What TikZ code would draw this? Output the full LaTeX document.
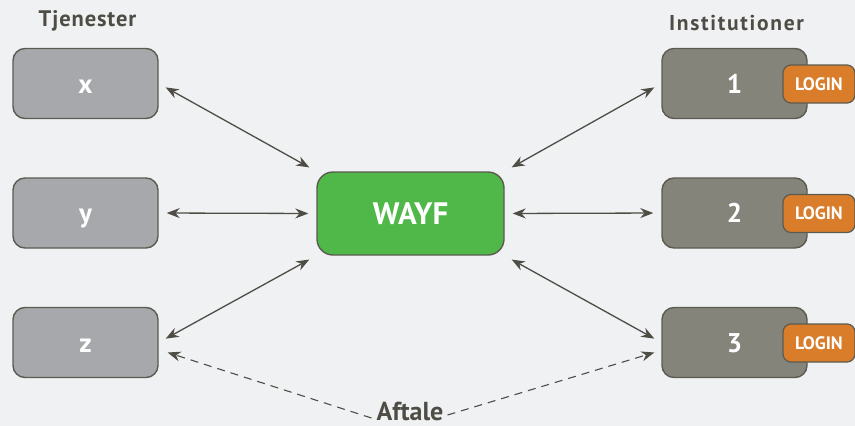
\documentclass[tikz,border=0pt]{standalone}
\usepackage{fontspec}
\setmainfont{PT Sans}
\usetikzlibrary{arrows.meta}
\definecolor{bg}{HTML}{F0F1F3}
\definecolor{edge}{HTML}{5C5B52}
\definecolor{lgray}{HTML}{A7A8AB}
\definecolor{dgray}{HTML}{85847A}
\definecolor{wgreen}{HTML}{50B848}
\definecolor{lorange}{HTML}{D97D2A}
\definecolor{txt}{HTML}{4E4D45}
\tikzset{
  box/.style={draw=edge, line width=1.4pt, rounded corners=12pt, minimum width=145pt, minimum height=70pt, text=white, font=\fontsize{27}{27}\bfseries\selectfont, inner sep=0pt, text height=19pt, text depth=0pt},
  sbox/.style={box, fill=lgray},
  ibox/.style={box, fill=dgray},
  wbox/.style={draw=edge, line width=1.4pt, rounded corners=16pt, fill=wgreen, minimum width=187pt, minimum height=83pt, text=white, font=\fontsize{31}{31}\bfseries\selectfont, inner sep=0pt},
  badge/.style={draw=edge, line width=1.2pt, rounded corners=8pt, fill=lorange, minimum width=72pt, minimum height=38pt, text=white, font=\fontsize{18}{18}\bfseries\selectfont, inner sep=0pt},
  head/.style={text=txt, font=\fontsize{21}{21}\bfseries\selectfont, inner sep=0pt},
  conn/.style={draw=txt, line width=1.3pt, {Stealth[length=13pt,width=10pt]}-{Stealth[length=13pt,width=10pt]}, shorten <=8pt, shorten >=8pt},
  dconn/.style={draw=txt, line width=1.1pt, dash pattern=on 8pt off 6pt, -{Stealth[length=13pt,width=10pt]}}
}
\begin{document}
\begin{tikzpicture}[x=1pt,y=-1pt]
\fill[bg] (0,0) rectangle (855,426);
\useasboundingbox (0,0) rectangle (855,426);
\node[head, font=\fontsize{22.5}{23}\bfseries\selectfont\addfontfeatures{LetterSpace=4}] (tj) at (87.5,21) {Tjenester};
\node[head, font=\fontsize{21.5}{22}\bfseries\selectfont\addfontfeatures{LetterSpace=8}] (in) at (736.5,23) {Institutioner};
\node[sbox] (x) at (85.5,83.5) {x};
\node[sbox] (y) at (85.5,213) {y};
\node[sbox] (z) at (85.5,342.5) {z};
\node[ibox] (i1) at (734.5,83.5) {1};
\node[ibox] (i2) at (734.5,213) {2};
\node[ibox] (i3) at (734.5,342.5) {3};
\node[badge] (l1) at (819,84) {LOGIN};
\node[badge] (l2) at (819,213.5) {LOGIN};
\node[badge] (l3) at (819,343) {LOGIN};
\node[wbox] (w) at (410.5,213.5) {WAYF};
\node[text=txt, font=\fontsize{26}{26}\bfseries\selectfont, inner sep=0pt, text height=18pt, text depth=0pt] (af) at (410,411) {Aftale};
\draw[conn] (x.east) -- (w.north west);
\draw[conn] (y.east) -- (w.west);
\draw[conn] (z.east) -- (w.south west);
\draw[conn] (w.north east) -- (i1.west);
\draw[conn] (w.east) -- (i2.west);
\draw[conn] (w.south east) -- (i3.west);
\coordinate (afl) at ([xshift=-5pt,yshift=-7pt]af.west);
\coordinate (afr) at ([xshift=4pt,yshift=-4pt]af.east);
\draw[dconn] (afl) -- ([xshift=9pt,yshift=-10pt]z.east);
\draw[dconn] (afr) -- ([xshift=-7pt,yshift=-10pt]i3.west);
\end{tikzpicture}
\end{document}
